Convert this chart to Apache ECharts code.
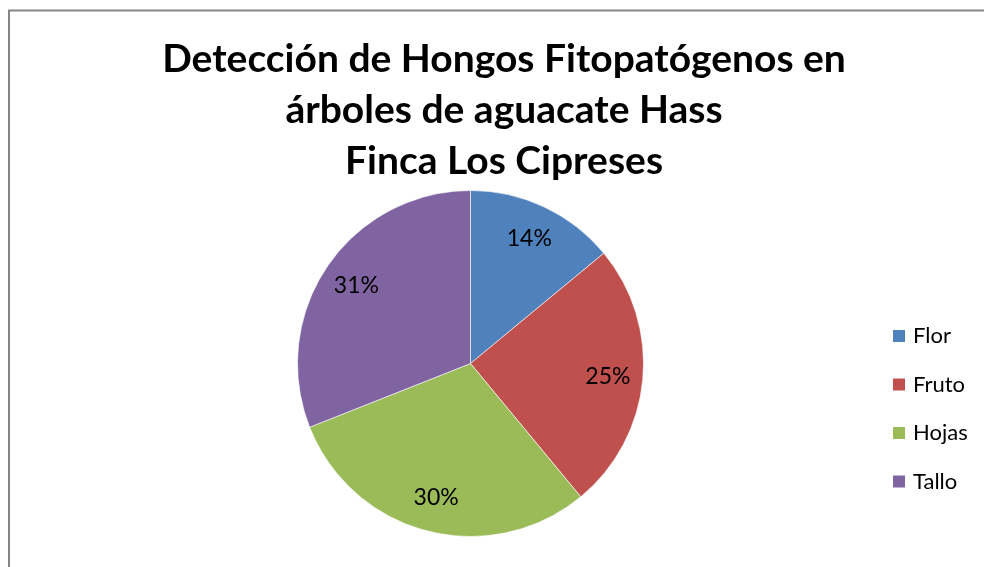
<!DOCTYPE html>
<html>
<head>
<meta charset="utf-8">
<script src="https://cdn.jsdelivr.net/npm/echarts@6/dist/echarts.min.js"></script>
<style>
  html, body { margin: 0; padding: 0; background: #ffffff; }
  #chart { width: 984px; height: 567px; }
</style>
</head>
<body>
<div id="chart"></div>
<script>
// Parte de la planta y porcentaje de detección
const categories = ['Flor', 'Fruto', 'Hojas', 'Tallo'];
const values = [14, 25, 30, 31];
const colors = ['#4F81BD', '#C0504D', '#9BBB59', '#8064A2'];
const titleLines = [
  'Detección de Hongos Fitopatógenos en',
  'árboles de aguacate Hass',
  'Finca Los Cipreses'
];

const FONT = 'Lato, "Open Sans", sans-serif';
const pieData = categories.map((name, i) => ({ name, value: values[i] }));

const chart = echarts.init(document.getElementById('chart'), null, { renderer: 'canvas' });

chart.setOption({
  backgroundColor: '#ffffff',
  animation: false,
  color: colors,
  title: {
    text: titleLines.join('\n'),
    left: 504,
    top: 34,
    padding: 0,
    textAlign: 'center',
    textStyle: {
      fontFamily: FONT,
      fontWeight: 'bold',
      fontSize: 39,
      lineHeight: 51,
      color: '#000000'
    }
  },
  legend: {
    data: categories,
    orient: 'vertical',
    left: 891,
    top: 325,
    padding: 0,
    itemWidth: 14,
    itemHeight: 14,
    itemGap: 26.5,
    icon: 'rect',
    textStyle: {
      fontFamily: FONT,
      fontSize: 22,
      lineHeight: 22,
      color: '#000000',
      padding: [0, 0, 0, 2]
    }
  },
  graphic: [{
    type: 'rect',
    shape: { x: 9, y: 10.5, width: 1000, height: 600 },
    style: { fill: 'none', stroke: '#868686', lineWidth: 2 },
    silent: true
  }],
  series: [
    {
      type: 'pie',
      center: [470.5, 363.5],
      radius: [0, 173],
      startAngle: 90,
      clockwise: true,
      data: pieData,
      label: { show: false },
      labelLine: { show: false },
      itemStyle: { borderColor: '#ffffff', borderWidth: 0.6 },
      emphasis: { disabled: true }
    },
    {
      // capa de etiquetas de porcentaje
      type: 'pie',
      center: [470.5, 363.5],
      radius: [97, 173],
      startAngle: 90,
      clockwise: true,
      silent: true,
      data: pieData,
      itemStyle: { color: 'rgba(0,0,0,0)' },
      label: {
        show: true,
        position: 'inside',
        formatter: (p) => p.value + '%',
        fontFamily: FONT,
        fontSize: 23,
        color: '#000000'
      },
      labelLine: { show: false },
      emphasis: { disabled: true }
    }
  ]
});
</script>
</body>
</html>
